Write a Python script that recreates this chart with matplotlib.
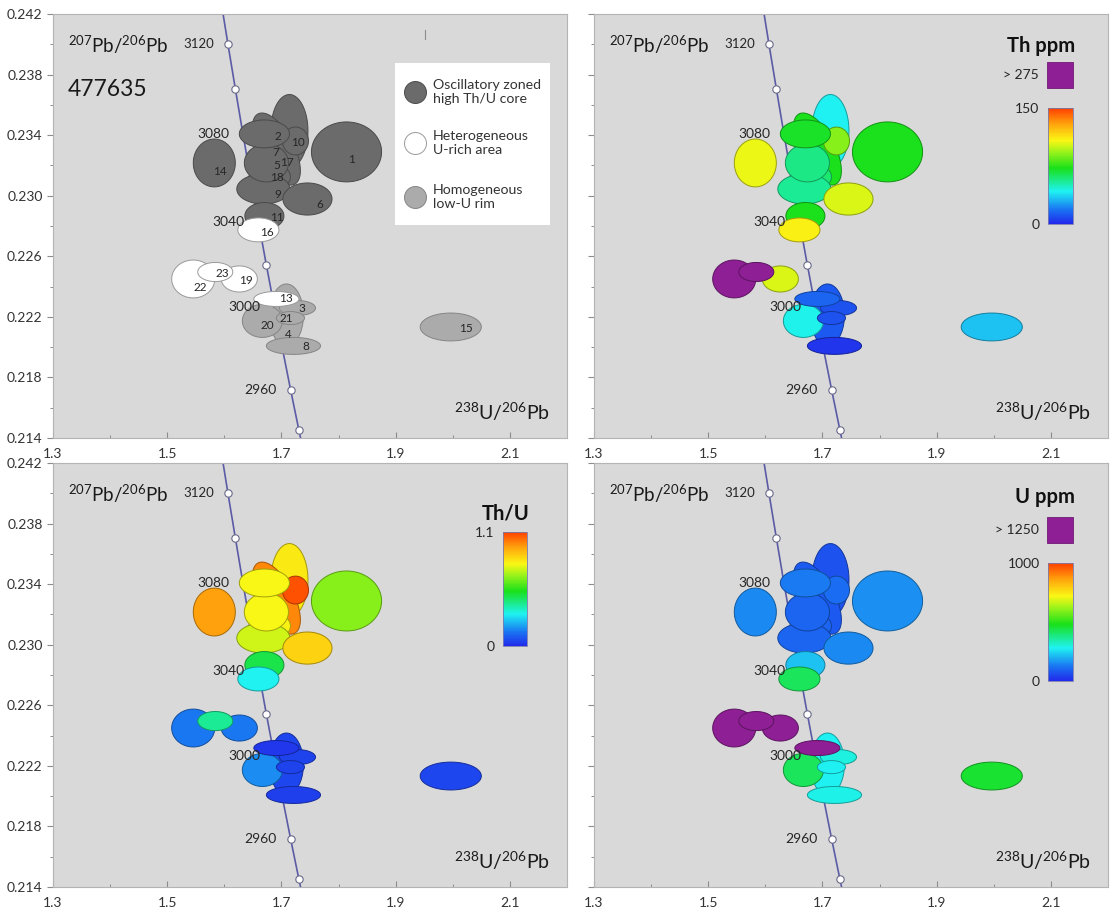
import numpy as np
import matplotlib
matplotlib.use("Agg")
import matplotlib.pyplot as plt
from matplotlib.colors import LinearSegmentedColormap, Normalize, to_rgb
from matplotlib.patches import Polygon, Rectangle
from matplotlib.cm import ScalarMappable

plt.rcParams["font.family"] = ["Lato", "DejaVu Sans"]
plt.rcParams["mathtext.default"] = "regular"

# SHRIMP spots, listed in drawing order (later spots sit on top)
spot_id = [12, 17, 5, 18, 9, 6, 7, 10, 2, 1, 14, 11, 16, 22, 19, 23, 4, 20, 3, 21, 13, 8, 15]
u238_pb206 = [1.7140, 1.6912, 1.6842, 1.6842, 1.6684, 1.7456, 1.6737, 1.7246, 1.6702, 1.8140,
              1.5825, 1.6702, 1.6597, 1.5456, 1.6263, 1.5842, 1.7088, 1.6667, 1.7281, 1.7158,
              1.6912, 1.7211, 1.9965]
pb207_pb206 = [0.23427, 0.23308, 0.23216, 0.23124, 0.23044, 0.22978, 0.23216, 0.23361, 0.23408, 0.23289,
               0.23216, 0.22866, 0.22774, 0.22450, 0.22450, 0.22496, 0.22212, 0.22173, 0.22258, 0.22192,
               0.22318, 0.22008, 0.22133]
# half extents of the 2-sigma error ellipses and error correlation
err_x = [0.0325, 0.0420, 0.0228, 0.0316, 0.0465, 0.0430, 0.0386, 0.0228, 0.0439, 0.0614,
         0.0368, 0.0342, 0.0360, 0.0377, 0.0316, 0.0307, 0.0298, 0.0351, 0.0316, 0.0246,
         0.0395, 0.0474, 0.0535]
err_y = [0.00241, 0.00238, 0.00073, 0.00086, 0.00099, 0.00106, 0.00125, 0.00092, 0.00092, 0.00198,
         0.00158, 0.00089, 0.00079, 0.00125, 0.00086, 0.00063, 0.00205, 0.00109, 0.000495, 0.00043,
         0.000495, 0.00056, 0.00092]
err_rho = [0.0, -0.6, 0.0, 0.0, 0.0, 0.0, 0.0, 0.0, 0.0, 0.0,
           0.0, 0.0, 0.0, 0.0, 0.0, 0.0, 0.0, 0.0, 0.0, 0.0,
           0.0, 0.0, 0.0]
domain = ["core", "core", "core", "core", "core", "core", "core", "core", "core", "core",
          "core", "core", "urich", "urich", "urich", "urich", "rim", "rim", "rim", "rim",
          "urich", "rim", "rim"]
th_ppm = [42, 72, 70, 60, 55, 103, 57, 90, 70, 72,
          106, 72, 110, 300, 103, 300, 12, 43, 10, 10,
          15, 3, 33]
th_u = [0.82, 0.99, 0.95, 0.80, 0.74, 0.86, 0.79, 1.07, 0.79, 0.66,
        0.95, 0.48, 0.31, 0.14, 0.14, 0.40, 0.055, 0.17, 0.05, 0.05,
        0.03, 0.04, 0.055]
u_ppm = [70, 80, 90, 100, 100, 150, 100, 110, 130, 160,
         150, 220, 420, 1400, 1400, 1400, 280, 420, 300, 280,
         1400, 290, 460]

# where the spot numbers are printed
label_x = {1: 1.8228, 2: 1.6930, 3: 1.7351, 4: 1.7123, 5: 1.6912, 6: 1.7667, 7: 1.6895, 8: 1.7421,
           9: 1.6930, 10: 1.7281, 11: 1.6930, 13: 1.7088, 14: 1.5930, 15: 2.0228, 16: 1.6754,
           17: 1.7105, 18: 1.6930, 19: 1.6386, 20: 1.6754, 21: 1.7088, 22: 1.5579, 23: 1.5965}
label_y = {1: 0.23242, 2: 0.23394, 3: 0.22258, 4: 0.22080, 5: 0.23196, 6: 0.22939, 7: 0.23282,
           8: 0.22001, 9: 0.23005, 10: 0.23348, 11: 0.22859, 13: 0.22318, 14: 0.23157, 15: 0.22120,
           16: 0.22754, 17: 0.23216, 18: 0.23117, 19: 0.22437, 20: 0.22140, 21: 0.22192,
           22: 0.22391, 23: 0.22483}

# concordia, 20 Ma marks
conc_age = [3140, 3120, 3100, 3080, 3060, 3040, 3020, 3000, 2980, 2960, 2940, 2920]
conc_x = [1.5934, 1.6064, 1.6195, 1.6327, 1.6462, 1.6598, 1.6735, 1.6875, 1.7017, 1.7160, 1.7306, 1.7454]
conc_y = [0.24304, 0.24000, 0.23702, 0.23406, 0.23116, 0.22828, 0.22545, 0.22266, 0.21991, 0.21720,
          0.21452, 0.21189]
labelled_ages = [3120, 3080, 3040, 3000, 2960]

x_ticks = [1.3, 1.5, 1.7, 1.9, 2.1]
y_ticks = [0.214, 0.218, 0.222, 0.226, 0.230, 0.234, 0.238, 0.242]

domain_fill = {"core": "#6b6b6b", "urich": "#ffffff", "rim": "#ababab"}
domain_edge = {"core": "#4a4a4a", "urich": "#9a9a9a", "rim": "#858585"}
legend_text = [("core", "Oscillatory zoned\nhigh Th/U core"),
               ("urich", "Heterogeneous\nU-rich area"),
               ("rim", "Homogeneous\nlow-U rim")]

OVER_COLOR = "#8e1f94"
BG = "#d9d9d9"

rainbow = LinearSegmentedColormap.from_list("rainbow_th", [
    (0.00, (0.13, 0.16, 0.92)),
    (0.12, (0.10, 0.45, 0.95)),
    (0.28, (0.12, 0.95, 0.95)),
    (0.48, (0.10, 0.88, 0.10)),
    (0.62, (0.60, 0.95, 0.10)),
    (0.72, (0.98, 0.97, 0.08)),
    (0.86, (1.00, 0.65, 0.05)),
    (1.00, (1.00, 0.25, 0.00)),
])


def ellipse_points(x0, y0, ex, ey, r, n=120):
    t = np.linspace(0, 2 * np.pi, n)
    xs = x0 + ex * np.cos(t)
    ys = y0 + ey * (r * np.cos(t) + np.sqrt(1 - r * r) * np.sin(t))
    return np.column_stack([xs, ys])


def darker(color, f=0.65):
    return tuple(c * f for c in to_rgb(color))


def setup_axes(ax, ylabels):
    ax.set_facecolor(BG)
    ax.set_xlim(1.3, 2.2)
    ax.set_ylim(0.214, 0.242)
    ax.set_xticks(x_ticks)
    ax.set_xticks([1.4, 1.6, 1.8, 2.0, 2.2], minor=True)
    ax.set_yticks(y_ticks)
    ax.set_yticks([0.216, 0.220, 0.224, 0.228, 0.232, 0.236, 0.240], minor=True)
    ax.set_xticklabels([f"{v:.1f}" for v in x_ticks])
    if ylabels:
        ax.set_yticklabels([f"{v:.3f}" for v in y_ticks])
    else:
        ax.set_yticklabels([])
    ax.tick_params(axis="x", which="both", direction="in", color="#8c8c8c", labelsize=10,
                   labelcolor="#333333", pad=7)
    ax.tick_params(axis="y", which="both", direction="out", color="#8c8c8c", labelsize=10,
                   labelcolor="#333333")
    ax.tick_params(which="major", length=4, width=0.8)
    ax.tick_params(which="minor", length=2.5, width=0.7)
    for s in ax.spines.values():
        s.set_color("#b4b4b4")
        s.set_linewidth(0.8)

    # concordia curve with age marks
    ax.plot(conc_x, conc_y, color="#5b5ba6", lw=1.2, zorder=1)
    ax.scatter(conc_x, conc_y, s=28, facecolor="white", edgecolor="#6a6a8a", lw=0.8, zorder=2)
    for age, cx, cy in zip(conc_age, conc_x, conc_y):
        if age in labelled_ages:
            ax.annotate(str(age), (cx, cy), xytext=(-10, 0), textcoords="offset points",
                        ha="right", va="center", fontsize=9.5 if age == 3120 else 10,
                        color="#262626", zorder=8)

    ax.text(0.029, 0.927, r"$^{207}$Pb/$^{206}$Pb", transform=ax.transAxes,
            fontsize=13.5, va="center", ha="left", color="#1a1a1a", zorder=9)
    ax.text(0.967, 0.061, r"$^{238}$U/$^{206}$Pb", transform=ax.transAxes,
            fontsize=14, va="center", ha="right", color="#1a1a1a", zorder=9)


def draw_spots(ax, fills, edges):
    for i in range(len(spot_id)):
        pts = ellipse_points(u238_pb206[i], pb207_pb206[i], err_x[i], err_y[i], err_rho[i])
        ax.add_patch(Polygon(pts, closed=True, facecolor=fills[i], edgecolor=edges[i],
                             lw=0.7, zorder=3 + i * 0.01))


def value_colours(values, vmax, over):
    norm = Normalize(0, vmax)
    fills = []
    for v in values:
        if v > over:
            fills.append(OVER_COLOR)
        else:
            fills.append(rainbow(norm(min(v, vmax))))
    edges = [darker(c) for c in fills]
    return fills, edges


def add_colourbar(ax, title, vmax, top_label, rect, title_xy, title_va="center",
                  over_label=None, square=None):
    cax = ax.inset_axes(rect)
    cb = plt.colorbar(ScalarMappable(norm=Normalize(0, vmax), cmap=rainbow), cax=cax)
    cb.set_ticks([0, vmax])
    cb.set_ticklabels(["0", top_label])
    cax.yaxis.set_ticks_position("left")
    cax.tick_params(length=0, labelsize=10, labelcolor="#262626", pad=6)
    cb.outline.set_edgecolor("#7a7ab0")
    cb.outline.set_linewidth(0.6)
    ax.text(title_xy[0], title_xy[1], title, transform=ax.transAxes, ha="right", va=title_va,
            fontsize=14.5, fontweight="bold", color="#111111", zorder=9)
    if square is not None:
        ax.add_patch(Rectangle(square[:2], square[2], square[3], transform=ax.transAxes,
                               facecolor=OVER_COLOR, edgecolor="#6e1a74", lw=0.6, zorder=9))
        ax.text(square[0] - 0.015, square[1] + square[3] / 2, over_label, transform=ax.transAxes,
                ha="right", va="center", fontsize=10, color="#262626", zorder=9)


fig = plt.figure(figsize=(11.1, 9.24), dpi=100)
col_left = [0.0477, 0.5351]
row_bottom = [0.526, 0.040]
w, h = 0.4631, 0.4589
ax_grey = fig.add_axes([col_left[0], row_bottom[0], w, h])
ax_th = fig.add_axes([col_left[1], row_bottom[0], w, h])
ax_thu = fig.add_axes([col_left[0], row_bottom[1], w, h])
ax_u = fig.add_axes([col_left[1], row_bottom[1], w, h])

setup_axes(ax_grey, True)
setup_axes(ax_th, False)
setup_axes(ax_thu, True)
setup_axes(ax_u, False)

# domain map with spot numbers and legend
draw_spots(ax_grey, [domain_fill[d] for d in domain], [domain_edge[d] for d in domain])
for sid in spot_id:
    if sid in label_x:
        ax_grey.text(label_x[sid], label_y[sid], str(sid), fontsize=8.5, ha="center", va="center",
                     color="#262626", zorder=6)
ax_grey.text(0.029, 0.821, "477635", transform=ax_grey.transAxes, fontsize=16.5,
             va="center", ha="left", color="#1a1a1a", zorder=9)
ax_grey.plot([0.724, 0.724], [0.94, 0.962], transform=ax_grey.transAxes, color="#8c8c8c", lw=0.8)
ax_grey.add_patch(Rectangle((0.665, 0.502), 0.302, 0.382, transform=ax_grey.transAxes,
                            facecolor="white", edgecolor="none", zorder=7))
for (key, txt), ly in zip(legend_text, [0.816, 0.696, 0.568]):
    ax_grey.scatter([0.704], [ly], s=250, transform=ax_grey.transAxes, facecolor=domain_fill[key],
                    edgecolor=domain_edge[key], lw=0.7, zorder=8)
    ax_grey.text(0.739, ly, txt, transform=ax_grey.transAxes, fontsize=10.2, va="center",
                 ha="left", color="#333333", linespacing=1.25, zorder=8)

# Th ppm
fills, edges = value_colours(th_ppm, 150, 275)
draw_spots(ax_th, fills, edges)
add_colourbar(ax_th, "Th ppm", 150, "150", [0.883, 0.505, 0.049, 0.273], (0.936, 0.925),
              over_label="> 275", square=(0.881, 0.825, 0.051, 0.062))

# Th/U
fills, edges = value_colours(th_u, 1.1, 99)
draw_spots(ax_thu, fills, edges)
add_colourbar(ax_thu, "Th/U", 1.1, "1.1", [0.875, 0.568, 0.047, 0.270], (0.928, 0.866),
              title_va="baseline")

# U ppm
fills, edges = value_colours(u_ppm, 1000, 1250)
draw_spots(ax_u, fills, edges)
add_colourbar(ax_u, "U ppm", 1000, "1000", [0.883, 0.486, 0.049, 0.278], (0.936, 0.920),
              over_label="> 1250", square=(0.881, 0.811, 0.051, 0.062))

fig.savefig("out.png", dpi=100, facecolor="white")
